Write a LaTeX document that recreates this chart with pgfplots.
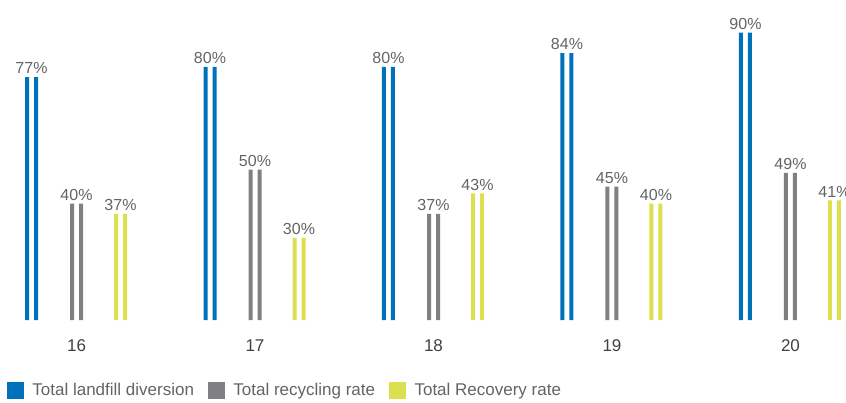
\documentclass[border=0pt]{standalone}
\usepackage{pgfplots}
\pgfplotsset{compat=1.18}
\usepackage{pgfplotstable}
\usepackage{fontspec}
\setmainfont{Liberation Sans}
\definecolor{cblue}{HTML}{0072BC}
\definecolor{cgray}{HTML}{808083}
\definecolor{cyel}{HTML}{DCE04E}
\definecolor{ctext}{HTML}{646464}
\definecolor{ctick}{HTML}{404040}
\pgfplotstableread{
x b g y
0 77 40 37
1 80 50 30
2 80 37 43
3 84 45 40
4 90 49 41
}\data
\begin{document}
\begin{tikzpicture}
\begin{axis}[
  at={(0pt,0pt)}, anchor=north west,
  scale only axis, width=846pt, height=320pt,
  xmin=-0.4286, xmax=4.311, ymin=6, ymax=99.57,
  /pgf/number format/assume math mode=true,
  axis line style={draw=none}, major tick length=0pt,
  ytick=\empty,
  xtick={0,1,2,3,4}, xticklabels={16,17,18,19,20},
  xticklabel style={font=\fontsize{17}{20}\selectfont, text=ctick, yshift=-16pt},
  ybar, bar width=4pt, clip=false,
  nodes near coords style={font=\fontsize{16}{19}\selectfont, text=ctext, inner sep=2pt, yshift=1pt},
  legend style={at={(axis description cs:0.0083,-0.219)}, anchor=west, draw=none, fill=none,
    inner sep=0pt, outer sep=0pt, font=\fontsize{17}{20}\selectfont, text=ctext,
    /tikz/every odd column/.append style={column sep=7pt},
    /tikz/every even column/.append style={column sep=12pt}},
  legend columns=3, legend cell align=left,
]
\addplot[forget plot, fill=cblue, draw=none, bar shift=-49.5pt] table[x=x,y=b]{\data};
\addplot[forget plot, fill=cblue, draw=none, bar shift=-40.5pt] table[x=x,y=b]{\data};
\addplot[forget plot, draw=none, fill=none, bar shift=-45pt, nodes near coords={\pgfmathprintnumber{\pgfplotspointmeta}\%}] table[x=x,y=b]{\data};
\addplot[forget plot, fill=cgray, draw=none, bar shift=-4.5pt] table[x=x,y=g]{\data};
\addplot[forget plot, fill=cgray, draw=none, bar shift=4.5pt] table[x=x,y=g]{\data};
\addplot[forget plot, draw=none, fill=none, bar shift=0pt, nodes near coords={\pgfmathprintnumber{\pgfplotspointmeta}\%}] table[x=x,y=g]{\data};
\addplot[forget plot, fill=cyel, draw=none, bar shift=39.5pt] table[x=x,y=y]{\data};
\addplot[forget plot, fill=cyel, draw=none, bar shift=48.5pt] table[x=x,y=y]{\data};
\addplot[forget plot, draw=none, fill=none, bar shift=44pt, nodes near coords={\pgfmathprintnumber{\pgfplotspointmeta}\%}] table[x=x,y=y]{\data};
\addlegendimage{legend image code/.code={\fill[cblue] (0pt,-8pt) rectangle (16pt,8pt);}}
\addlegendentry{Total landfill diversion}
\addlegendimage{legend image code/.code={\fill[cgray] (0pt,-8pt) rectangle (16pt,8pt);}}
\addlegendentry{Total recycling rate}
\addlegendimage{legend image code/.code={\fill[cyel] (0pt,-8pt) rectangle (16pt,8pt);}}
\addlegendentry{Total Recovery rate}
\end{axis}
\pgfresetboundingbox
\useasboundingbox (0pt,0pt) rectangle (846pt,-403pt);
\end{tikzpicture}
\end{document}
